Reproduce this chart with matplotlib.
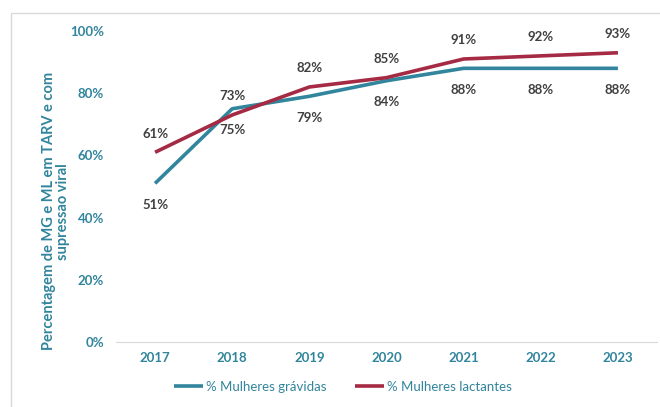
import matplotlib
matplotlib.use("Agg")
import matplotlib.pyplot as plt
from matplotlib.patches import Rectangle
from matplotlib.ticker import FuncFormatter

years = ["2017", "2018", "2019", "2020", "2021", "2022", "2023"]
gravidas = [51, 75, 79, 84, 88, 88, 88]
lactantes = [61, 73, 82, 85, 91, 92, 93]

TEAL = "#31859C"
RED = "#A52A44"
LABEL = "#404040"

plt.rcParams['font.family'] = ['Lato', 'DejaVu Sans']

fig = plt.figure(figsize=(6.6, 4.07), dpi=100)
ax = fig.add_axes([116.5 / 660, 1 - 342 / 407, 540 / 660, 311 / 407])

# chart border (cut by the image edge at right / bottom)
fig.patches.append(Rectangle((11 / 660, -0.05), 1.2, 1 - 13 / 407 + 0.05,
                             transform=fig.transFigure, fill=False,
                             edgecolor="#D9D9D9", linewidth=1.0))

x = range(len(years))
ax.plot(x, gravidas, color=TEAL, linewidth=2.6, label="% Mulheres grávidas",
        solid_capstyle="butt")
ax.plot(x, lactantes, color=RED, linewidth=2.6, label="% Mulheres lactantes",
        solid_capstyle="butt")

for i in x:
    ax.annotate("%d%%" % lactantes[i], (i, lactantes[i]), xytext=(0, 9),
                textcoords="offset points", ha="center", va="bottom",
                fontsize=9.5, fontweight="bold", color=LABEL)
    ax.annotate("%d%%" % gravidas[i], (i, gravidas[i]), xytext=(0, -11),
                textcoords="offset points", ha="center", va="top",
                fontsize=9.5, fontweight="bold", color=LABEL)

ax.set_xlim(-0.5, len(years) - 0.5)
ax.set_ylim(0, 100)
ax.set_xticks(list(x))
ax.set_xticklabels(years)
ax.set_yticks(range(0, 101, 20))
ax.yaxis.set_major_formatter(FuncFormatter(lambda v, p: "%d%%" % v))

for s in ["top", "right", "left"]:
    ax.spines[s].set_visible(False)
ax.spines["bottom"].set_color("#D9D9D9")
ax.tick_params(length=0, labelsize=9.5, labelcolor=TEAL)
ax.tick_params(axis="x", pad=7)
ax.tick_params(axis="y", pad=9)
for lbl in ax.get_xticklabels() + ax.get_yticklabels():
    lbl.set_fontweight("bold")

ax.set_ylabel("Percentagem de MG e ML em TARV e com\nsupressao viral",
              fontsize=10.5, fontweight="bold", color=TEAL,
              linespacing=1.05, va="center")
ax.yaxis.set_label_coords(-0.112, 0.42)

fig.legend(loc="center", bbox_to_anchor=(343 / 660, 1 - 387 / 407), ncol=2,
           frameon=False, fontsize=9.5, labelcolor=TEAL, handlelength=2.2,
           columnspacing=2.2, handletextpad=0.2)

fig.savefig("out.png", dpi=100)
